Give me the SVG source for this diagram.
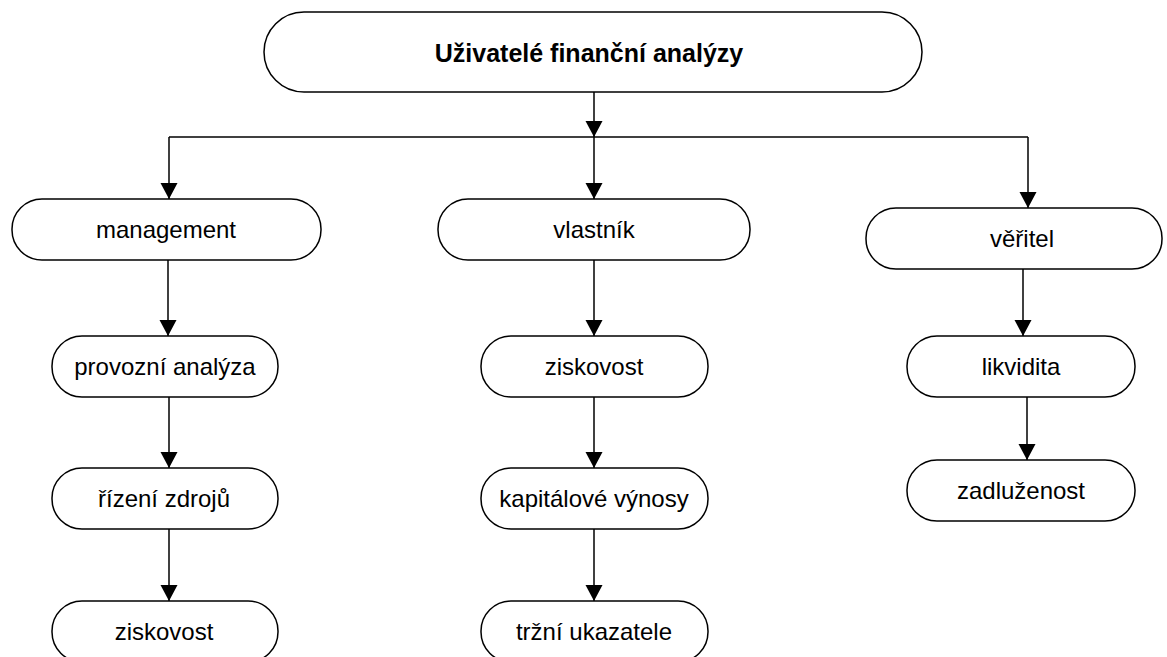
<svg xmlns="http://www.w3.org/2000/svg" width="1167" height="657" viewBox="0 0 1167 657">
<style>
.n{fill:#fff;stroke:#000;stroke-width:1.5}
.t{font-family:"Liberation Sans",Arial,sans-serif;font-size:24px;fill:#000;text-anchor:middle}
.tb{font-family:"Liberation Sans",Arial,sans-serif;font-size:25px;font-weight:bold;fill:#000;text-anchor:middle}
.c{fill:none;stroke:#000;stroke-width:1.5}
</style>
<defs>
<marker id="ah" markerUnits="userSpaceOnUse" markerWidth="18" markerHeight="18" refX="16" refY="8.5" orient="auto">
<path d="M0,0 L16,8.5 L0,17 Z" fill="#000"/>
</marker>
</defs>
<rect width="1167" height="657" fill="#fff"/>
<g id="connectors">
<line class="c" x1="594" y1="92" x2="594" y2="137" marker-end="url(#ah)"/>
<line class="c" x1="169" y1="137" x2="1028" y2="137"/>
<line class="c" x1="169" y1="137" x2="169" y2="199" marker-end="url(#ah)"/>
<line class="c" x1="594" y1="137" x2="594" y2="199" marker-end="url(#ah)"/>
<line class="c" x1="1028" y1="137" x2="1028" y2="208" marker-end="url(#ah)"/>
<line class="c" x1="168" y1="260" x2="168" y2="336" marker-end="url(#ah)"/>
<line class="c" x1="169" y1="397" x2="169" y2="468" marker-end="url(#ah)"/>
<line class="c" x1="169" y1="529" x2="169" y2="601" marker-end="url(#ah)"/>
<line class="c" x1="594" y1="260" x2="594" y2="336" marker-end="url(#ah)"/>
<line class="c" x1="594" y1="397" x2="594" y2="468" marker-end="url(#ah)"/>
<line class="c" x1="594" y1="529" x2="594" y2="601" marker-end="url(#ah)"/>
<line class="c" x1="1023" y1="269" x2="1023" y2="336" marker-end="url(#ah)"/>
<line class="c" x1="1027" y1="397" x2="1027" y2="460" marker-end="url(#ah)"/>
</g>
<g id="root"><rect class="n" x="264" y="12" width="658" height="80" rx="40" ry="40"/><text class="tb" x="589" y="62">Uživatelé finanční analýzy</text></g>
<g id="management"><rect class="n" x="12" y="199" width="309" height="61" rx="30" ry="30"/><text class="t" x="166" y="238">management</text></g>
<g id="vlastnik"><rect class="n" x="438" y="199" width="312" height="61" rx="30" ry="30"/><text class="t" x="594" y="238">vlastník</text></g>
<g id="veritel"><rect class="n" x="866" y="208" width="296" height="61" rx="30" ry="30"/><text class="t" x="1022" y="247">věřitel</text></g>
<g id="provozni"><rect class="n" x="52" y="336" width="226" height="61" rx="30" ry="30"/><text class="t" x="165" y="375">provozní analýza</text></g>
<g id="rizeni"><rect class="n" x="52" y="468" width="226" height="61" rx="30" ry="30"/><text class="t" x="164" y="507">řízení zdrojů</text></g>
<g id="ziskovost1"><rect class="n" x="52" y="601" width="226" height="61" rx="30" ry="30"/><text class="t" x="164" y="640">ziskovost</text></g>
<g id="ziskovost2"><rect class="n" x="481" y="336" width="227" height="61" rx="30" ry="30"/><text class="t" x="594" y="375">ziskovost</text></g>
<g id="kapitalove"><rect class="n" x="481" y="468" width="227" height="61" rx="30" ry="30"/><text class="t" x="594" y="507">kapitálové výnosy</text></g>
<g id="trzni"><rect class="n" x="481" y="601" width="227" height="61" rx="30" ry="30"/><text class="t" x="594" y="640">tržní ukazatele</text></g>
<g id="likvidita"><rect class="n" x="907" y="336" width="228" height="61" rx="30" ry="30"/><text class="t" x="1021" y="375">likvidita</text></g>
<g id="zadluzenost"><rect class="n" x="907" y="460" width="228" height="61" rx="30" ry="30"/><text class="t" x="1021" y="499">zadluženost</text></g>
</svg>
